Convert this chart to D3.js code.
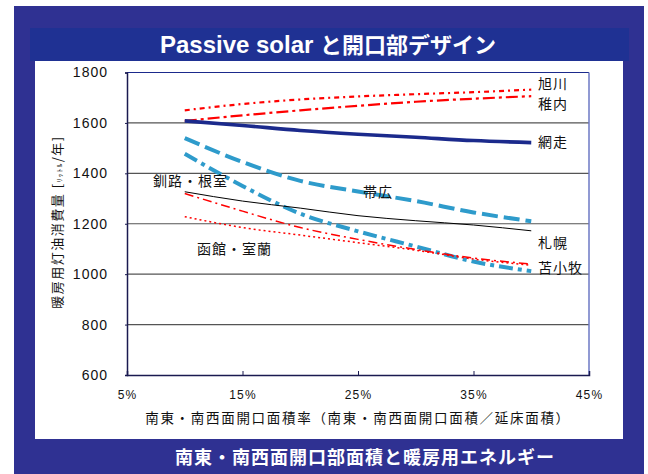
<!DOCTYPE html>
<html><head><meta charset="utf-8">
<script src="https://cdn.jsdelivr.net/npm/d3@7"></script>
<style>html,body{margin:0;padding:0;background:#fff;}svg{display:block;}</style>
</head><body>
<script>
// ---- data ----
const ratios = [10, 15, 20, 25, 30, 35, 40];           // 開口面積率 (%)
const asahikawa = [1650, 1675, 1693, 1705, 1714, 1722, 1732];
const wakkanai  = [1608, 1630, 1650, 1668, 1684, 1696, 1706];
const abashiri  = [1608, 1590, 1570, 1555, 1543, 1530, 1522];
const obihiro   = [1540, 1445, 1370, 1328, 1290, 1245, 1210];
const tomakomai = [1478, 1350, 1240, 1170, 1110, 1050, 1012];
const sapporo   = [1327, 1290, 1262, 1232, 1212, 1195, 1172];
const kushiro   = [1320, 1250, 1185, 1138, 1098, 1064, 1040];
const hakodate  = [1228, 1185, 1155, 1125, 1095, 1060, 1035];
const xTicks = [5, 15, 25, 35, 45];
const yTicks = [600, 800, 1000, 1200, 1400, 1600, 1800];
const labels = ["旭川", "稚内", "網走", "帯広", "苫小牧", "札幌", "釧路・根室", "函館・室蘭"];

const W = 648, H = 474;
const svg = d3.select("body").append("svg").attr("width", W).attr("height", H);
const JP = "'Noto Sans CJK JP', sans-serif";
const LAT = "'Liberation Sans', Arial, sans-serif";

// frame
svg.append("rect").attr("x", 14).attr("y", 6).attr("width", 630).attr("height", 468).attr("fill", "#2F3192");
svg.append("rect").attr("x", 30).attr("y", 28).attr("width", 599).attr("height", 33).attr("fill", "#1F3193");
svg.append("rect").attr("x", 35).attr("y", 61).attr("width", 588).attr("height", 378).attr("fill", "#ffffff");

const title = svg.append("text").attr("x", 328).attr("y", 53).attr("text-anchor", "middle")
  .attr("fill", "#fff").attr("font-family", JP).attr("font-weight", "bold").attr("font-size", 22);
title.append("tspan").attr("font-family", "'Liberation Sans Narrow', " + LAT).attr("font-size", 24).text("Passive solar ");
title.append("tspan").text("と開口部デザイン");
svg.append("text").attr("x", 365).attr("y", 464).attr("text-anchor", "middle")
  .attr("fill", "#fff").attr("font-family", JP).attr("font-weight", "bold").attr("font-size", 18)
  .attr("letter-spacing", 1)
  .text("南東・南西面開口部面積と暖房用エネルギー");

// scales
const x = d3.scaleLinear().domain([5, 45]).range([127, 589]);
const y = d3.scaleLinear().domain([600, 1800]).range([375, 72.5]);

// gridlines
svg.append("g").selectAll("line").data(yTicks.filter(v => v > 600 && v < 1800)).join("line")
  .attr("x1", x(5)).attr("x2", x(45)).attr("y1", d => y(d)).attr("y2", d => y(d))
  .attr("stroke", "#555").attr("stroke-width", 1.2);

// plot border
svg.append("line").attr("x1", x(5)).attr("x2", x(45)).attr("y1", y(1800)).attr("y2", y(1800))
  .attr("stroke", "#1B2A8C").attr("stroke-width", 1.2);
svg.append("line").attr("x1", x(45)).attr("x2", x(45)).attr("y1", y(1800)).attr("y2", y(600))
  .attr("stroke", "#6C78C4").attr("stroke-width", 1.5);

// axes
const yAxis = d3.axisLeft(y).tickValues(yTicks).tickSize(2).tickPadding(17).tickFormat(d3.format("d"));
const gy = svg.append("g").attr("transform", `translate(${x(5)},0)`).call(yAxis);
gy.select(".domain").attr("stroke", "#1A1A50").attr("stroke-width", 1.5);
gy.selectAll(".tick line").attr("stroke", "#1A1A50");
gy.selectAll("text").attr("font-family", LAT).attr("font-size", 14).attr("fill", "#111").attr("letter-spacing", 1);

const xAxis = d3.axisBottom(x).tickValues(xTicks).tickSize(-4).tickPadding(15).tickFormat(d => d + "%");
const gx = svg.append("g").attr("transform", `translate(0,${y(600)})`).call(xAxis);
gx.select(".domain").attr("stroke", "#1A1A50").attr("stroke-width", 1.5);
gx.selectAll(".tick line").attr("stroke", "#1A1A50");
gx.selectAll("text").attr("font-family", LAT).attr("font-size", 12).attr("fill", "#111").attr("letter-spacing", 1.2);

// axis titles
svg.append("text").attr("x", 358).attr("y", 423).attr("text-anchor", "middle")
  .attr("font-family", JP).attr("font-size", 13.5).attr("fill", "#111").attr("letter-spacing", 1.7)
  .text("南東・南西面開口面積率（南東・南西面開口面積／延床面積）");
const yt = svg.append("text").attr("transform", "translate(62,222) rotate(-90)").attr("text-anchor", "middle")
  .attr("font-family", JP).attr("font-size", 13).attr("fill", "#111").attr("letter-spacing", 1.5);
yt.append("tspan").text("暖房用灯油消費量 [");
yt.append("tspan").attr("font-size", 7).text("ﾘｯﾄﾙ");
yt.append("tspan").text("/年]");

// series
const series = [
  { name: labels[0], v: asahikawa, color: "#FF0000", w: 2.2, dash: "5,4,2,4" },
  { name: labels[1], v: wakkanai,  color: "#FF0000", w: 2.2, dash: "12,4,3,4" },
  { name: labels[2], v: abashiri,  color: "#1B2A8C", w: 3.6, dash: null },
  { name: labels[3], v: obihiro,   color: "#2E9BCB", w: 4,   dash: "16,6" },
  { name: labels[4], v: tomakomai, color: "#2E9BCB", w: 4,   dash: "14,5,4,5" },
  { name: labels[5], v: sapporo,   color: "#000000", w: 1,   dash: null },
  { name: labels[6], v: kushiro,   color: "#FF0000", w: 1.5, dash: "9,4,2,4" },
  { name: labels[7], v: hakodate,  color: "#FF0000", w: 1.5, dash: "2,3" }
];
const line = d3.line().x((d, i) => x(ratios[i])).y(d => y(d)).curve(d3.curveMonotoneX);
svg.append("g").selectAll("path").data(series).join("path")
  .attr("d", d => line(d.v)).attr("fill", "none")
  .attr("stroke", d => d.color).attr("stroke-width", d => d.w)
  .attr("stroke-dasharray", d => d.dash);

// labels
const labelPos = [
  { t: labels[0], x: 538, y: 84 },
  { t: labels[1], x: 538, y: 104 },
  { t: labels[2], x: 538, y: 142 },
  { t: labels[3], x: 363, y: 192 },
  { t: labels[4], x: 538, y: 268 },
  { t: labels[5], x: 538, y: 243 },
  { t: labels[6], x: 153, y: 181 },
  { t: labels[7], x: 197, y: 249 }
];
svg.append("g").selectAll("text").data(labelPos).join("text")
  .attr("x", d => d.x).attr("y", d => d.y).attr("dy", "0.36em")
  .attr("font-family", JP).attr("font-size", 14).attr("fill", "#111").attr("letter-spacing", 1)
  .text(d => d.t);
</script>
</body></html>
